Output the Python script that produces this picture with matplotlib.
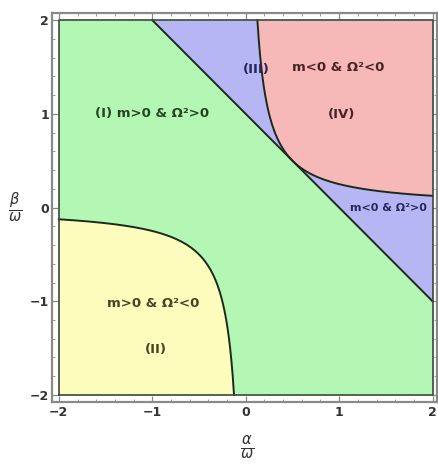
import numpy as np
import matplotlib
matplotlib.use("Agg")
import matplotlib.pyplot as plt
from matplotlib.ticker import MultipleLocator

# Region boundaries (alpha/omega = x, beta/omega = y)
line_sum = 1.0          # m = 0 boundary: x + y = 1
hyper_product = 0.25    # Omega^2 = 0 boundary: x * y = 1/4
x_range = [-2.0, 2.0]
y_range = [-2.0, 2.0]
tick_values = [-2, -1, 0, 1, 2]
tick_labels = ["\u22122", "\u22121", "0", "1", "2"]

region_colors = {"I": "#b4f6b4", "II": "#fdfcbc", "III": "#b6b6f4", "IV": "#f7b8b8"}
labels = [
    ("(I) m>0 & \u03a9\u00b2>0", -1.0, 1.0, "#24461f", 9.5),
    ("(III)", 0.11, 1.47, "#27275a", 9.5),
    ("m<0 & \u03a9\u00b2<0", 0.99, 1.49, "#4a2424", 9.5),
    ("(IV)", 1.03, 0.99, "#4a2424", 9.5),
    ("m<0 & \u03a9\u00b2>0", 1.53, -0.01, "#27275a", 8),
    ("m>0 & \u03a9\u00b2<0", -0.99, -1.02, "#474420", 9.5),
    ("(II)", -0.96, -1.51, "#474420", 9.5),
]

fig = plt.figure(figsize=(4.39, 4.68), dpi=100)
ax = fig.add_axes([0.118, 0.141, 0.877, 0.831])

x0, x1 = x_range
y0, y1 = y_range

# Background: region I
ax.fill_between([x0, x1], y0, y1, color=region_colors["I"], lw=0, zorder=1)

# Region II: bottom-left hyperbola branch
xc2 = hyper_product / y0
xs = np.linspace(x0, xc2, 400)
ax.fill_between(xs, y0, hyper_product / xs, color=region_colors["II"], lw=0, zorder=2)

# Region III: above line, below hyperbola
xl = line_sum - y1
xs = np.linspace(xl, x1, 800)
upper = np.where(xs > 0, np.minimum(y1, hyper_product / np.where(xs > 0, xs, 1)), y1)
ax.fill_between(xs, line_sum - xs, upper, color=region_colors["III"], lw=0, zorder=2)

# Region IV: top-right hyperbola branch
xc4 = hyper_product / y1
xs = np.linspace(xc4, x1, 400)
ax.fill_between(xs, hyper_product / xs, y1, color=region_colors["IV"], lw=0, zorder=3)

# Boundary curves
bc = "#1c2a1c"
xs = np.linspace(xl, x1, 200)
ax.plot(xs, line_sum - xs, color=bc, lw=1.4, zorder=5)
xs = np.linspace(x0, xc2, 400)
ax.plot(xs, hyper_product / xs, color=bc, lw=1.4, zorder=5)
xs = np.linspace(xc4, x1, 400)
ax.plot(xs, hyper_product / xs, color=bc, lw=1.4, zorder=5)
ax.plot([x0, x1, x1, x0, x0], [y0, y0, y1, y1, y0], color="#3a4a3a", lw=1.2, zorder=6)

for txt, tx, ty, c, fs in labels:
    ax.text(tx, ty, txt, ha="center", va="center", fontsize=fs, fontweight="bold",
            color=c, zorder=7)

ax.set_xlim(-2.075, 2.045)
ax.set_ylim(-2.075, 2.075)
ax.set_xticks(tick_values)
ax.set_yticks(tick_values)
ax.set_xticklabels(tick_labels)
ax.set_yticklabels(tick_labels)
ax.xaxis.set_minor_locator(MultipleLocator(0.2))
ax.yaxis.set_minor_locator(MultipleLocator(0.2))
ax.tick_params(which="both", direction="in", top=True, right=True, color="#888888",
               labelcolor="#333333", labelsize=9)
ax.tick_params(which="major", length=4, width=0.9)
ax.tick_params(which="minor", length=2, width=0.6)
ax.tick_params(axis="x", which="both", pad=3)
ax.tick_params(axis="y", which="both", pad=2)
for lab in ax.get_xticklabels() + ax.get_yticklabels():
    lab.set_fontweight("bold")
for s in ax.spines.values():
    s.set_color("#8a8a8a")
    s.set_linewidth(1.6)

fig.text(15 / 439, 1 - 208 / 468, r"$\frac{\beta}{\omega}$", fontsize=15,
         ha="center", va="center", color="#333333")
fig.text(247 / 439, 1 - 448 / 468, r"$\frac{\alpha}{\omega}$", fontsize=15,
         ha="center", va="center", color="#333333")

fig.savefig("out.png", dpi=100)
